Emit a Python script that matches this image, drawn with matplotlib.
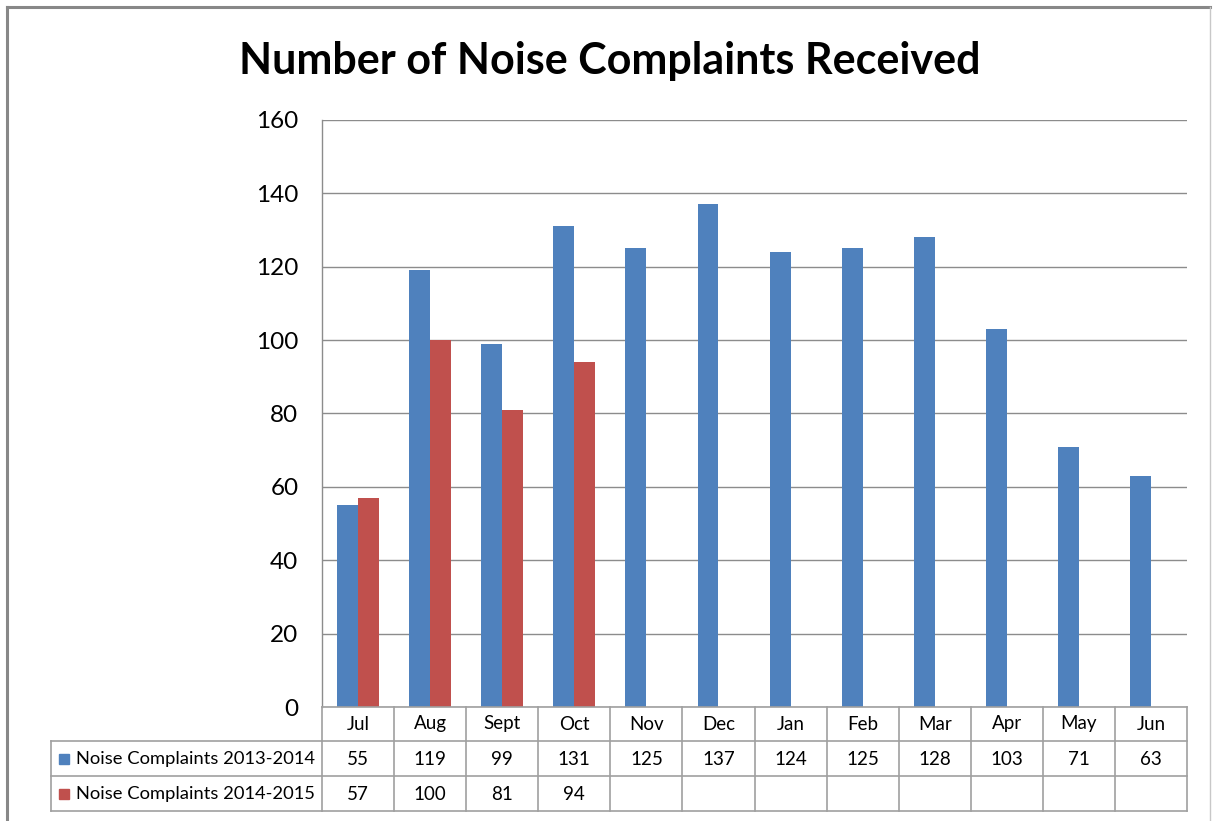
import matplotlib
matplotlib.use("Agg")
import matplotlib.pyplot as plt
from matplotlib.transforms import blended_transform_factory
from matplotlib.patches import Rectangle

months = ["Jul", "Aug", "Sept", "Oct", "Nov", "Dec", "Jan", "Feb", "Mar", "Apr", "May", "Jun"]
series_2013 = [55, 119, 99, 131, 125, 137, 124, 125, 128, 103, 71, 63]
series_2014 = [57, 100, 81, 94, None, None, None, None, None, None, None, None]
series_names = ["Noise Complaints 2013-2014", "Noise Complaints 2014-2015"]
yticks = [0, 20, 40, 60, 80, 100, 120, 140, 160]
title = "Number of Noise Complaints Received"

BLUE = "#4F81BD"
RED = "#C0504D"
GRID = "#8C8C8C"
FONT = ["Lato", "DejaVu Sans"]

W, H = 1214, 821
fig = plt.figure(figsize=(W / 100, H / 100), dpi=100)

def fx(px):
    return px / W

def fy(py):
    return 1 - py / H

# outer chart border
fig.add_artist(plt.Line2D([fx(7), fx(1210)], [fy(7), fy(7)], color="#888888", lw=2.2))
fig.add_artist(plt.Line2D([fx(7), fx(7)], [fy(7), fy(821)], color="#888888", lw=2.2))
fig.add_artist(plt.Line2D([fx(1210), fx(1210)], [fy(7), fy(821)], color="#C8C8C8", lw=1))

left, right, top, bottom = 322, 1187, 120, 707
ax = fig.add_axes([fx(left), fy(bottom), fx(right - left), fy(top) - fy(bottom)])

x = list(range(len(months)))
bw = 0.29
ax.bar([i - bw / 2 for i in x], series_2013, width=bw, color=BLUE, zorder=3)
x2 = [i + bw / 2 for i, v in zip(x, series_2014) if v is not None]
v2 = [v for v in series_2014 if v is not None]
ax.bar(x2, v2, width=bw, color=RED, zorder=3)

ax.set_xlim(-0.5, len(months) - 0.5)
ax.set_ylim(0, 160)
ax.set_yticks(yticks)
ax.set_yticklabels([str(t) for t in yticks], fontsize=17.5, family=FONT)
ax.tick_params(axis="y", length=0, pad=17)
ax.set_xticks([])
ax.grid(axis="y", color=GRID, lw=1, zorder=0)
for s in ["top", "right", "bottom"]:
    ax.spines[s].set_visible(False)
ax.spines["left"].set_color(GRID)
ax.spines["left"].set_linewidth(1)

fig.text(fx(610), fy(61), title, ha="center", va="center", fontsize=31,
         fontweight="bold", family=FONT)

# data table
tr = blended_transform_factory(ax.transData, fig.transFigure)
rows_y = [707, 741, 776, 811]
lc = dict(color="#A0A0A0", lw=1.2, clip_on=False)
xl, xr = -0.5, len(months) - 0.5
for yy in rows_y:
    fig.add_artist(plt.Line2D([xl, xr], [fy(yy), fy(yy)], transform=tr, **lc))
for yy in rows_y[1:]:
    fig.add_artist(plt.Line2D([fx(51), fx(left)], [fy(yy), fy(yy)], **lc))
fig.add_artist(plt.Line2D([fx(51), fx(51)], [fy(741), fy(811)], **lc))
for i in range(len(months) + 1):
    xv = i - 0.5
    fig.add_artist(plt.Line2D([xv, xv], [fy(707), fy(811)], transform=tr, **lc))

tfs = 13.5
lfs = 13.2
for i, m in enumerate(months):
    fig.text(i, fy(724), m, transform=tr, ha="center", va="center", fontsize=tfs, family=FONT)
    fig.text(i, fy(759), str(series_2013[i]), transform=tr, ha="center", va="center",
             fontsize=tfs, family=FONT)
    if series_2014[i] is not None:
        fig.text(i, fy(794), str(series_2014[i]), transform=tr, ha="center", va="center",
                 fontsize=tfs, family=FONT)

for name, col, yc in [(series_names[0], BLUE, 759), (series_names[1], RED, 794)]:
    fig.add_artist(Rectangle((fx(59), fy(yc + 5)), fx(10), fy(yc - 5) - fy(yc + 5),
                             color=col, transform=fig.transFigure))
    fig.text(fx(76), fy(yc), name, ha="left", va="center", fontsize=lfs, family=FONT)

fig.savefig("out.png", dpi=100)
